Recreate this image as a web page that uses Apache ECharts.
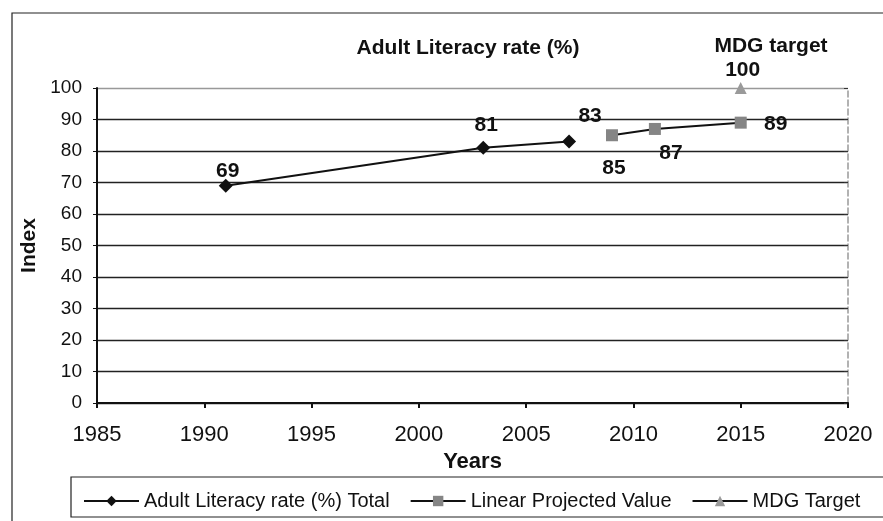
<!DOCTYPE html>
<html>
<head>
<meta charset="utf-8">
<script src="https://cdn.jsdelivr.net/npm/echarts@6/dist/echarts.min.js"></script>
<style>
  html, body { margin: 0; padding: 0; background: #fff; }
  #chart { width: 883px; height: 521px; }
</style>
</head>
<body>
<div id="chart"></div>
<script>
// data
const literacyYears = [1991, 2003, 2007]
const literacyValues = [69, 81, 83]
const projectedYears = [2009, 2011, 2015]
const projectedValues = [85, 87, 89]
const targetYears = [2015]
const targetValues = [100]
const seriesNames = ['Adult Literacy rate (%) Total', 'Linear Projected Value', 'MDG Target']

const font = 'Arial, "Liberation Sans", sans-serif'

// label placement per point (offsets in px)
const literacyLabelOffsets = [[2, 8], [3, 0], [21, -3]]
const projectedLabelOffsets = [[2, 33], [16, 24], [35, 2]]

const pairs = (xs, ys) => xs.map((x, i) => [x, ys[i]])

const labelStyle = {
  show: true,
  color: '#111',
  fontFamily: font,
  fontWeight: 'bold',
  fontSize: 21
}

const chart = echarts.init(document.getElementById('chart'))

const option = {
  animation: false,
  backgroundColor: '#fff',
  title: [
    {
      text: 'Adult Literacy rate (%)',
      left: 463,
      top: 33,
      textAlign: 'center',
      textStyle: { fontFamily: font, fontWeight: 'bold', fontSize: 21, color: '#111' }
    },
    {
      text: 'MDG target',
      left: 766,
      top: 31,
      textAlign: 'center',
      textStyle: { fontFamily: font, fontWeight: 'bold', fontSize: 21, color: '#111' }
    }
  ],
  graphic: [
    {
      type: 'rect',
      shape: { x: 12, y: 13, width: 900, height: 540 },
      style: { fill: 'none', stroke: '#222', lineWidth: 1.2 },
      silent: true
    },
    {
      type: 'rect',
      shape: { x: 71, y: 477, width: 840, height: 40 },
      style: { fill: '#fff', stroke: '#222', lineWidth: 1.2 },
      silent: true
    }
  ],
  legend: {
    left: 78,
    top: 486,
    itemWidth: 55,
    itemHeight: 13,
    itemGap: 20,
    textStyle: { fontFamily: font, fontSize: 20, color: '#111' },
    data: seriesNames
  },
  grid: {
    left: 97,
    right: 35,
    top: 88,
    bottom: 118
  },
  xAxis: {
    type: 'value',
    min: 1985,
    max: 2020,
    interval: 5,
    name: 'Years',
    nameLocation: 'middle',
    nameGap: 47,
    nameTextStyle: { fontFamily: font, fontWeight: 'bold', fontSize: 22, color: '#111' },
    axisLine: { show: true, onZero: false, lineStyle: { color: '#111', width: 2 } },
    axisTick: { show: true, length: 5, lineStyle: { color: '#111', width: 2 } },
    axisLabel: { fontFamily: font, fontSize: 22, color: '#111', margin: 21, formatter: v => String(v) },
    splitLine: { show: false }
  },
  yAxis: [
    {
      type: 'value',
      min: 0,
      max: 100,
      interval: 10,
      name: 'Index',
      nameLocation: 'middle',
      nameRotate: 90,
      nameGap: 57,
      nameTextStyle: { fontFamily: font, fontWeight: 'bold', fontSize: 21, color: '#111' },
      axisLine: { show: true, lineStyle: { color: '#111', width: 2 } },
      axisTick: { show: true, length: 4, lineStyle: { color: '#111' } },
      axisLabel: { fontFamily: font, fontSize: 19, color: '#111', margin: 15 },
      splitLine: {
        show: true,
        lineStyle: {
          color: ['#222', '#222', '#222', '#222', '#222', '#222', '#222', '#222', '#222', '#222', '#999'],
          width: 1.3
        }
      }
    },
    {
      type: 'value',
      min: 0,
      max: 100,
      interval: 10,
      position: 'right',
      axisLine: { show: true, lineStyle: { color: '#999', type: 'dashed', width: 1.5 } },
      axisTick: { show: true, inside: true, length: 4, lineStyle: { color: '#333' } },
      axisLabel: { show: false },
      splitLine: { show: false }
    }
  ],
  series: [
    {
      name: seriesNames[0],
      type: 'line',
      symbol: 'diamond',
      symbolSize: 14,
      itemStyle: { color: '#111' },
      lineStyle: { color: '#111', width: 2 },
      data: pairs(literacyYears, literacyValues).map((d, i) => ({
        value: d,
        label: { ...labelStyle, position: 'top', offset: literacyLabelOffsets[i] }
      }))
    },
    {
      name: seriesNames[1],
      type: 'line',
      symbol: 'rect',
      symbolSize: 12,
      itemStyle: { color: '#858585' },
      lineStyle: { color: '#111', width: 2 },
      data: pairs(projectedYears, projectedValues).map((d, i) => ({
        value: d,
        label: { ...labelStyle, position: 'inside', offset: projectedLabelOffsets[i] }
      }))
    },
    {
      name: seriesNames[2],
      type: 'line',
      symbol: 'triangle',
      symbolSize: 12,
      itemStyle: { color: '#9a9a9a' },
      lineStyle: { color: '#111', width: 2 },
      data: pairs(targetYears, targetValues).map(d => ({
        value: d,
        label: { ...labelStyle, position: 'top', offset: [2, 4] }
      }))
    }
  ]
}

chart.setOption(option)
</script>
</body>
</html>
